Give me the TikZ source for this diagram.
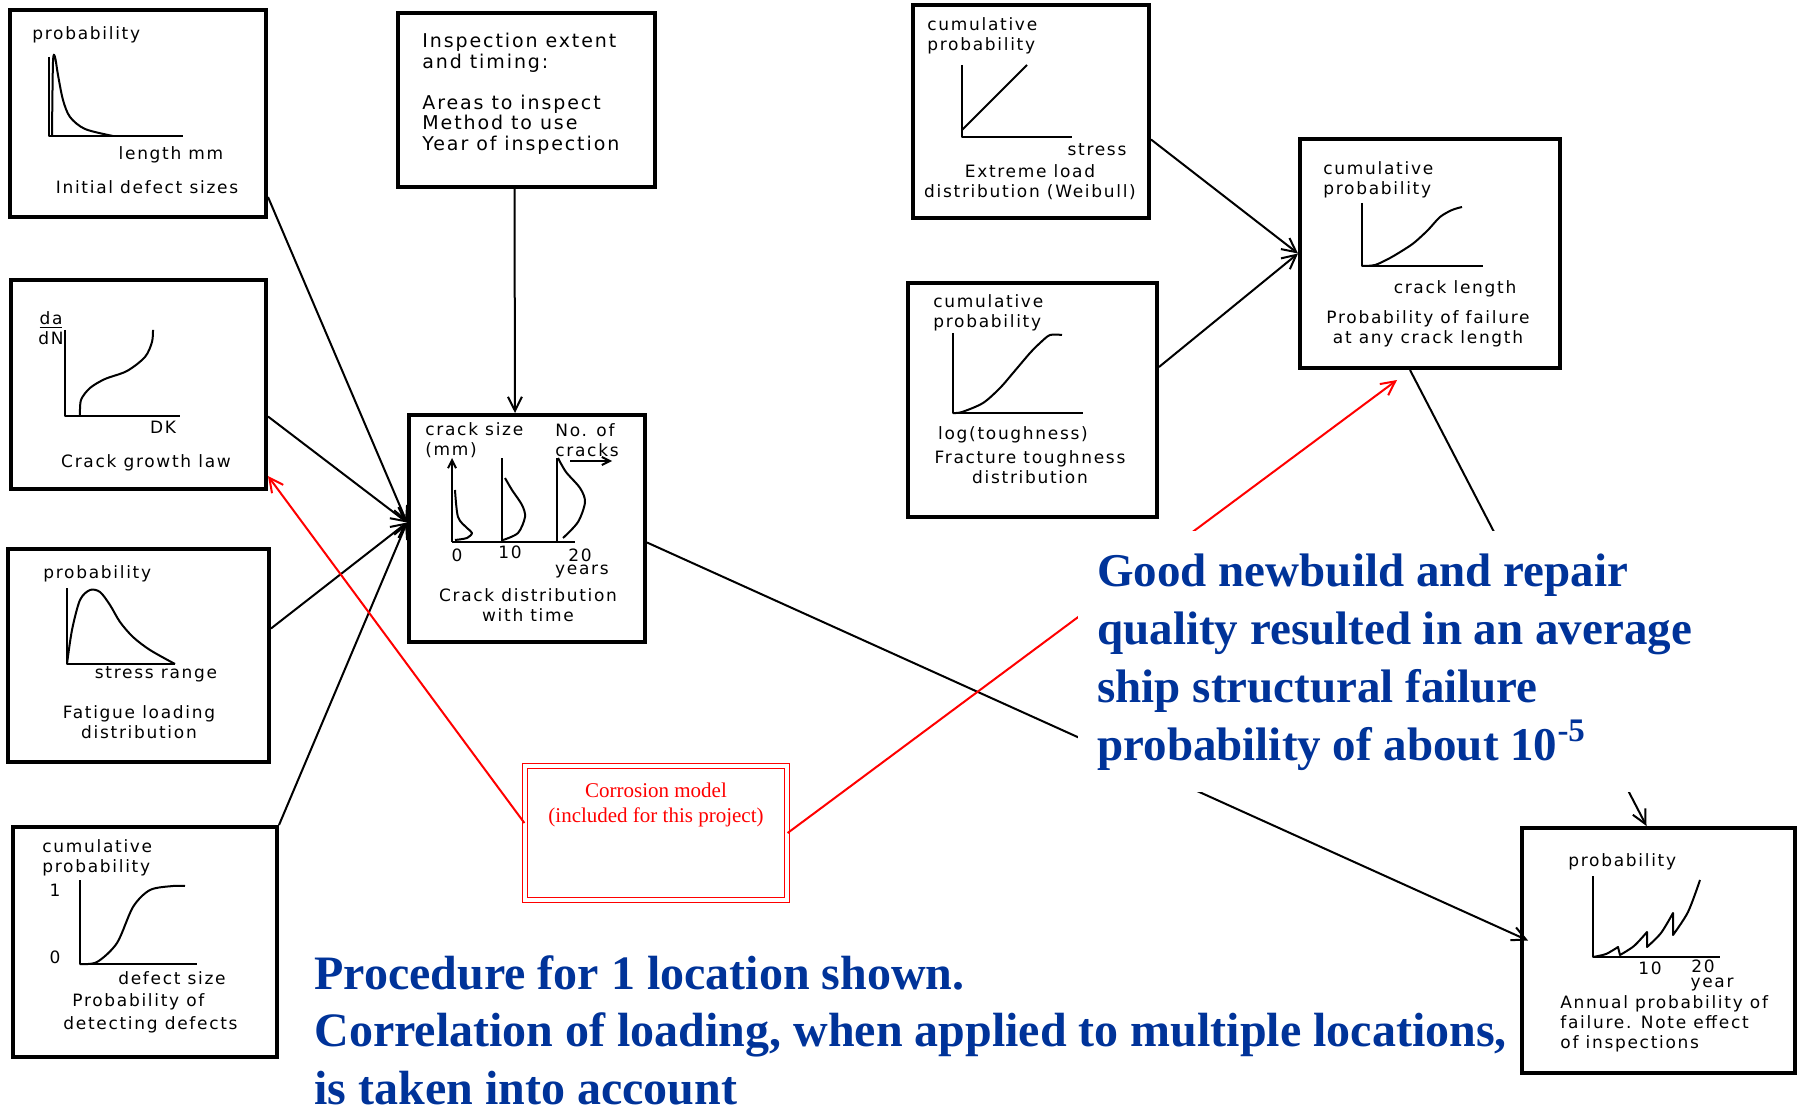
\documentclass[tikz,border=0pt]{standalone}
\usepackage{xcolor}
\usepackage{fontspec}
\setmainfont{Liberation Serif}
\newfontfamily\handfont[LetterSpace=10]{DejaVu Sans}
\usetikzlibrary{arrows.meta}
\definecolor{noteblue}{RGB}{0,51,153}

\begin{document}
\begin{tikzpicture}[x=0.5pt, y=-0.5pt,
  panel/.style={draw, line width=2pt, inner sep=0pt},
  hand/.style={inner sep=0pt, font=\handfont\fontsize{8.5}{10}\selectfont},
  curve/.style={line width=1pt, line join=round},
  feed/.style={line width=1pt, -{Straight Barb[length=7pt,width=7pt]}},
  note/.style={text=noteblue, align=left, font=\bfseries\fontsize{23.5}{29}\selectfont}]
\useasboundingbox (0,0) rectangle (1798,1106);

% left column
\node[panel, minimum width=128pt, minimum height=103.5pt] (defects) at (138,113.5) {};
\node[hand, anchor=west] (defectsy) at (32,35) {probability};
\node[hand] (defectsx) at (171,155) {length mm};
\node[hand] (defectslbl) at (147,187) {Initial defect sizes};
\draw[curve] (49,57) -- (49,136) -- (183,136);
\draw[curve] plot[smooth] coordinates {(52,136) (53,62) (55,57) (58,75) (63,100) (70,117) (85,129) (113,136)};

\node[panel, minimum width=127.5pt, minimum height=104.5pt] (growth) at (138.5,384.5) {};
\node[hand, align=center] (growthy) at (51,328) {\underline{da}\\dN};
\node[hand] (growthx) at (163,427) {DK};
\node[hand] (growthlbl) at (146,463) {Crack growth law};
\draw[curve] (65,330) -- (65,416) -- (180,416);
\draw[curve] plot[smooth] coordinates {(80,416) (81,400) (90,388) (105,379) (127,371) (145,357) (152,342) (153,330)};

\node[panel, minimum width=130.5pt, minimum height=106.5pt] (loading) at (138.5,655.5) {};
\node[hand, anchor=west] (loadingy) at (43,574) {probability};
\node[hand] (loadingx) at (156,674) {stress range};
\node[hand, align=center] (loadinglbl) at (139,722) {Fatigue loading\\distribution};
\draw[curve] (67,588) -- (67,664) -- (175,664);
\draw[curve] plot[smooth] coordinates {(67,664) (72,630) (80,600) (90,590) (100,592) (110,605) (120,622) (133,637) (150,650) (175,664)};

\node[panel, minimum width=132pt, minimum height=115pt] (detection) at (145,942) {};
\node[hand, anchor=west, align=left] (detectiony) at (42,858) {cumulative\\probability};
\node[hand] (detectionone) at (55,890) {1};
\node[hand] (detectionzero) at (55,957) {0};
\node[hand] (detectionx) at (172,978) {defect size};
\node[hand, anchor=west] (detectionlbl) at (72,1002) {Probability of};
\node[hand, anchor=west] (detectionlblb) at (63,1025) {detecting defects};
\draw[curve] (80,880) -- (80,964) -- (197,964);
\draw[curve] plot[smooth] coordinates {(80,964) (97,962) (117,943) (133,907) (150,890) (173,886) (185,886)};

% middle
\node[panel, minimum width=128.5pt, minimum height=87pt] (inspection) at (526.5,100) {};
\node[hand, anchor=west, align=left, font=\handfont\fontsize{9.5}{10.25}\selectfont] (inspectionlbl) at (422,94)
  {Inspection extent\\and timing:\\[10.25pt]Areas to inspect\\Method to use\\Year of inspection};

\node[panel, minimum width=118pt, minimum height=113.5pt] (cracks) at (527,528.5) {};
\node[hand, anchor=west, align=left] (cracksy) at (425,440) {crack size\\(mm)};
\node[hand, anchor=west, align=left] (cracksn) at (555,440) {No. of\\cracks};
\node[hand] (crackszero) at (457,555) {0};
\node[hand] (cracksten) at (510,552) {10};
\node[hand] (crackstwenty) at (580,555) {20};
\node[hand] (cracksx) at (582,572) {years};
\node[hand, align=center] (crackslbl) at (528,605) {Crack distribution\\with time};
\draw[curve, -{Straight Barb[length=4pt,width=4pt]}] (570,461) -- (612,461);
\draw[curve, -{Straight Barb[length=4pt,width=4pt]}] (452,542) -- (452,458);
\draw[curve] (502,542) -- (502,458) (557,542) -- (557,458) (452,542) -- (575,542);
\draw[curve] plot[smooth] coordinates {(455,490) (458,517) (467,528) (472,533) (467,538) (455,540)};
\draw[curve] plot[smooth] coordinates {(505,478) (512,490) (522,505) (525,517) (518,533) (503,540)};
\draw[curve] plot[smooth] coordinates {(558,458) (566,472) (580,488) (585,502) (578,522) (563,538)};

\node[draw=red, double, double distance=2pt, line width=0.6pt, inner sep=0pt,
  minimum width=131pt, minimum height=67pt] (corrosion) at (656,833) {};
\node[text=red, align=center, inner sep=0pt, font=\fontsize{10.5}{12.5}\selectfont] (corrosionlbl) at (656,805)
  {Corrosion model\\(included for this project)};

% right
\node[panel, minimum width=118pt, minimum height=106.5pt] (extreme) at (1031,111.5) {};
\node[hand, anchor=west, align=left] (extremey) at (927,36) {cumulative\\probability};
\node[hand] (extremex) at (1097,150) {stress};
\node[hand, align=center] (extremelbl) at (1030,182) {Extreme load\\distribution (Weibull)};
\draw[curve] (962,65) -- (962,137) -- (1072,137);
\draw[curve] (962,130) -- (1027,65);

\node[panel, minimum width=124.5pt, minimum height=117pt] (toughness) at (1032.5,400) {};
\node[hand, anchor=west, align=left] (toughnessy) at (933,313) {cumulative\\probability};
\node[hand] (toughnessx) at (1013,435) {log(toughness)};
\node[hand, align=center] (toughnesslbl) at (1030,467) {Fracture toughness\\distribution};
\draw[curve] (953,333) -- (953,413) -- (1083,413);
\draw[curve] plot[smooth] coordinates {(953,413) (962,412) (983,403) (1000,388) (1013,373) (1030,353) (1040,343) (1050,335) (1062,335)};

\node[panel, minimum width=130pt, minimum height=114.5pt] (failure) at (1430,253.5) {};
\node[hand, anchor=west, align=left] (failurey) at (1323,180) {cumulative\\probability};
\node[hand] (failurex) at (1455,289) {crack length};
\node[hand, align=center] (failurelbl) at (1428,329) {Probability of failure\\at any crack length};
\draw[curve] (1362,203) -- (1362,266) -- (1483,266);
\draw[curve] plot[smooth] coordinates {(1362,266) (1375,265) (1390,258) (1405,249) (1415,242) (1428,230) (1440,217) (1452,210) (1462,207)};

\node[panel, minimum width=136.5pt, minimum height=122.5pt] (annual) at (1658.5,950.5) {};
\node[hand, anchor=west] (annualy) at (1568,862) {probability};
\node[hand] (annualten) at (1650,968) {10};
\node[hand] (annualtwenty) at (1703,966) {20};
\node[hand] (annualx) at (1712,985) {year};
\node[hand, anchor=west, align=left] (annuallbl) at (1560,1024) {Annual probability of\\failure. Note effect\\of inspections};
\draw[curve] (1593,876) -- (1593,957) -- (1720,957);
\draw[curve] plot[smooth] coordinates {(1593,957) (1606,954) (1618,947)} -- (1620,955)
  -- plot[smooth] coordinates {(1620,955) (1634,946) (1647,932)} -- (1647,947)
  -- plot[smooth] coordinates {(1647,947) (1661,933) (1673,913)} -- (1673,935)
  -- plot[smooth] coordinates {(1673,935) (1688,912) (1700,880)};

\path[feed] ([yshift=11pt]defects.south east) edge ([yshift=3pt]cracks.west)
            ([yshift=-16pt]growth.east) edge ([yshift=3pt]cracks.west)
            ([yshift=13.5pt]loading.east) edge ([yshift=3pt]cracks.west)
            (detection.north east) edge ([yshift=3pt]cracks.west)
            ([xshift=-6pt]inspection.south) edge ([xshift=-6pt]cracks.north)
            ([yshift=-7pt]cracks.east) edge ([yshift=5pt,xshift=4pt]annual.west)
            ([yshift=-14pt]extreme.east) edge (failure.west)
            ([yshift=16.5pt]toughness.east) edge (failure.west)
            ([xshift=-10pt]failure.south) edge ([xshift=-6pt]annual.north)
            ([yshift=5pt]corrosion.west) edge[red] ([yshift=7.5pt]growth.south east)
            (corrosion.east) edge[red] ([xshift=-16.5pt,yshift=-5pt]failure.south);

\node[note, fill=white, anchor=north west, inner xsep=9.5pt, inner ysep=11pt] (verdict) at (1078,531)
  {Good newbuild and repair\\quality resulted in an average\\ship structural failure\\probability of about 10\textsuperscript{-5}};
\node[note, anchor=north west, inner sep=0pt, font=\bfseries\fontsize{24}{28.8}\selectfont] (remark) at (314,955)
  {Procedure for 1 location shown.\\Correlation of loading, when applied to multiple locations,\\is taken into account};
\end{tikzpicture}
\end{document}
